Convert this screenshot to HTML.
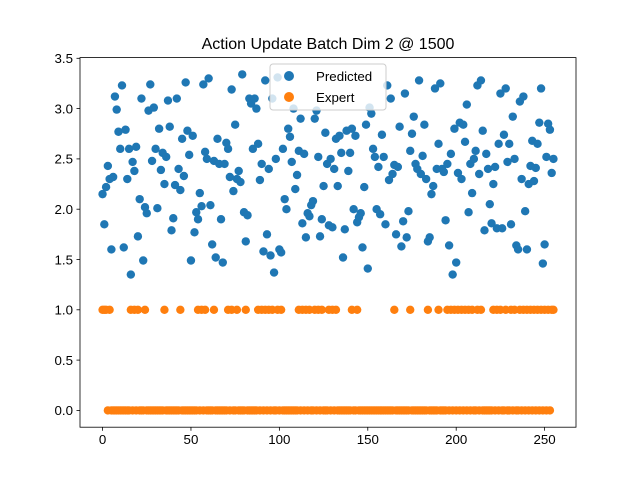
<!DOCTYPE html>
<html><head><meta charset="utf-8"><style>
body{margin:0;background:#fff}
svg{display:block;font-family:"Liberation Sans","DejaVu Sans",sans-serif}
</style></head><body>
<svg id="chart" width="640" height="480" viewBox="0 0 640 480" xmlns="http://www.w3.org/2000/svg">
<rect width="640" height="480" fill="#fff"/>
<text x="328" y="49" text-anchor="middle" font-size="16" fill="#000">Action Update Batch Dim 2 @ 1500</text>
<g id="marks"></g>
<g id="axes"></g>
<g id="legend">
<rect x="270" y="64" width="116" height="46" rx="3" fill="#fff" fill-opacity="0.8" stroke="#ccc"/>
<circle cx="289" cy="76" r="5" fill="#1f77b4"/>
<text x="316" y="81" font-size="13.3">Predicted</text>
<circle cx="289" cy="97" r="5" fill="#ff7f0e"/>
<text x="316" y="102" font-size="13.3">Expert</text>
</g>
</svg>
<script>
const predicted = [
2.15,1.85,2.22,2.43,2.3,1.6,2.32,3.12,2.99,2.77,2.6,
3.23,1.62,2.79,2.3,2.6,1.35,2.47,2.38,2.62,1.73,2.1,
3.1,1.49,2.02,1.96,2.98,3.24,2.48,3.01,2.6,2.01,2.8,
2.39,2.56,2.25,2.52,3.08,2.82,1.79,1.91,2.24,3.1,2.4,
2.19,2.7,2.33,3.26,2.78,2.54,1.49,2.73,1.77,1.97,1.9,
2.16,2.03,3.24,2.57,2.5,3.3,2.04,1.65,2.48,1.52,2.7,
2.45,1.9,1.47,2.45,2.66,2.6,2.32,3.19,2.18,2.84,2.3,
2.38,2.27,3.34,1.97,1.68,1.94,3.1,3.05,2.6,3.1,3.0,
2.65,2.29,2.45,1.58,3.28,1.75,2.4,1.54,3.1,1.37,2.5,
3.31,1.6,1.57,2.6,2.1,2.0,2.8,2.72,2.47,3.0,2.2,
2.34,2.58,2.9,1.86,2.55,1.72,1.96,1.93,2.04,2.08,2.9,
2.98,2.52,1.73,1.9,2.23,2.76,2.45,1.84,2.5,1.82,2.4,
2.7,2.23,2.73,2.56,1.52,1.8,2.78,2.38,2.56,2.8,2.0,
2.73,1.87,1.92,1.96,1.62,2.22,2.84,1.41,3.01,2.95,2.6,
2.52,2.0,2.42,1.95,2.74,2.52,1.85,3.23,2.29,3.1,2.35,
2.44,1.75,2.42,2.82,1.63,1.88,3.15,1.72,1.98,2.58,2.75,
2.92,2.45,2.4,3.28,2.35,2.53,2.84,2.3,1.68,1.72,2.15,
2.23,3.2,2.4,2.65,3.25,2.4,2.37,1.89,2.45,1.64,2.55,
1.35,2.8,1.47,2.36,2.86,2.3,2.84,2.67,3.04,1.97,2.45,
2.16,2.5,2.58,3.23,2.35,3.28,2.78,1.79,2.55,2.4,2.05,
1.86,2.25,2.42,1.81,2.65,3.15,1.81,2.74,3.2,2.47,2.65,
1.85,2.92,2.5,1.64,1.6,3.07,2.3,3.12,1.98,1.6,2.25,
2.43,2.68,2.28,2.41,2.65,2.86,3.2,1.46,1.65,2.52,2.85,
2.79,2.36,2.5
];
const expert = [
1,1,1,0,1,0,0,0,0,0,0,0,0,0,0,0,
1,0,1,0,1,0,0,0,1,0,0,0,0,0,0,0,
0,0,0,1,0,0,0,0,0,0,0,0,1,0,0,0,
0,0,0,0,0,0,1,0,1,0,1,0,0,0,0,1,
0,0,0,0,0,0,0,1,0,1,0,0,1,0,0,0,
0,1,0,0,0,0,0,0,1,0,1,0,1,0,1,0,
1,0,0,1,0,1,0,0,0,0,0,0,0,0,0,1,
0,1,0,1,0,1,0,0,1,0,1,0,1,0,0,0,
1,0,1,0,1,0,0,0,0,0,0,0,0,1,0,0,
1,0,0,0,0,0,0,0,0,0,0,0,0,0,0,0,
0,0,0,0,0,1,0,0,0,0,0,0,0,0,1,0,
0,0,0,0,0,0,0,0,1,0,0,0,0,0,1,0,
0,0,0,1,0,1,0,1,0,1,0,1,0,1,0,1,
0,1,0,0,1,0,1,0,0,0,0,0,0,1,0,1,
0,1,0,0,1,0,0,1,0,1,0,0,1,0,1,0,
1,0,1,0,1,0,1,0,1,0,1,0,1,0,1,1
];
const xTicks = [0,50,100,150,200,250];
const yTicks = [0.0,0.5,1.0,1.5,2.0,2.5,3.0,3.5];

const NS = "http://www.w3.org/2000/svg";
const L=80,R=576,T=57.6,B=427.2;
const n = Math.max(predicted.length, expert.length);
const xmin=-0.05*(n-1), xmax=(n-1)*1.05;
const allV = predicted.concat(expert);
const dmin=Math.min(...allV), dmax=Math.max(...allV);
const ymin=dmin-0.05*(dmax-dmin), ymax=dmax+0.05*(dmax-dmin);
const sx = v => L+(v-xmin)/(xmax-xmin)*(R-L);
const sy = v => B-(v-ymin)/(ymax-ymin)*(B-T);
const marks=document.getElementById('marks');
const axes=document.getElementById('axes');
function mk(tag, attrs, parent){const e=document.createElementNS(NS,tag);for(const k in attrs)e.setAttribute(k,attrs[k]);parent.appendChild(e);return e;}
predicted.forEach((v,i)=>{
  const c=mk('circle',{cx:sx(i),cy:sy(v),r:4.2,fill:'#1f77b4'},marks);
  
  
});
expert.forEach((v,i)=>{
  const c=mk('circle',{cx:sx(i),cy:sy(v),r:4.2,fill:'#ff7f0e'},marks);
  
  
});
const frame=mk('rect',{x:L,y:T,width:R-L,height:B-T,fill:'none',stroke:'#000','stroke-width':0.8},axes);


xTicks.forEach(t=>{
  const x=sx(t);
  const ln=mk('line',{x1:x,x2:x,y1:B,y2:B+3.5,stroke:'#000','stroke-width':0.8},axes);
  
  
  const tx=mk('text',{x:x,y:B+17,'text-anchor':'middle','font-size':13.3},axes);
  tx.textContent=t;
  
  
});
yTicks.forEach(t=>{
  const y=sy(t);
  const ln=mk('line',{x1:L-3.5,x2:L,y1:y,y2:y,stroke:'#000','stroke-width':0.8},axes);
  
  
  const tx=mk('text',{x:L-7,y:y+4.8,'text-anchor':'end','font-size':13.3},axes);
  tx.textContent=t.toFixed(1);
  
  
});
</script>
</body></html>
